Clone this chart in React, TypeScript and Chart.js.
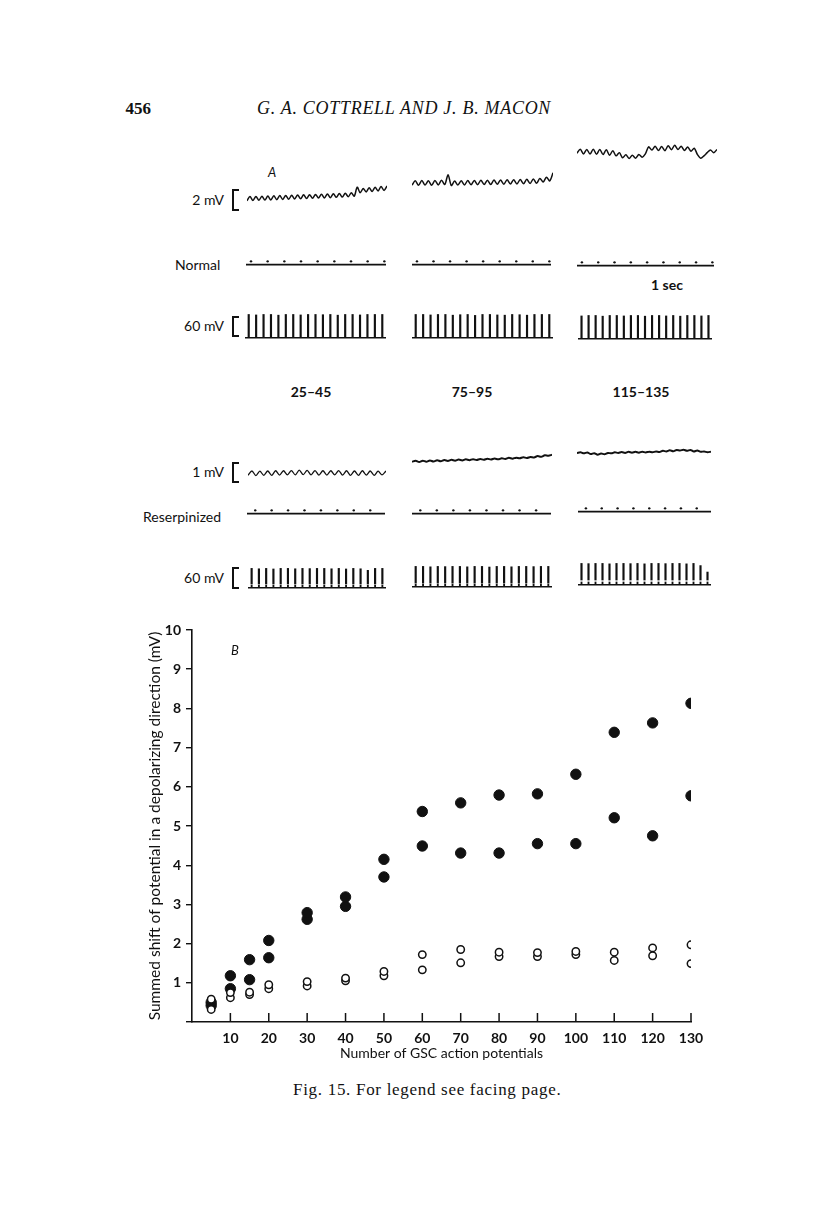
import React, { useEffect, useRef } from "react";
import { Chart, registerables } from "chart.js";

Chart.register(...registerables);

// ---------------- Panel B data ----------------
const GSC_COUNTS = [5, 10, 15, 20, 30, 40, 50, 60, 70, 80, 90, 100, 110, 120, 130];
const NORMAL_UPPER = [0.5, 1.18, 1.59, 2.08, 2.79, 3.19, 4.15, 5.37, 5.59, 5.79, 5.82, 6.32, 7.39, 7.63, 8.13];
const NORMAL_LOWER = [0.42, 0.85, 1.08, 1.64, 2.62, 2.95, 3.7, 4.49, 4.31, 4.31, 4.55, 4.55, 5.21, 4.75, 5.77];
const RESERP_UPPER = [0.58, 0.75, 0.76, 0.95, 1.03, 1.12, 1.29, 1.72, 1.85, 1.78, 1.77, 1.8, 1.78, 1.89, 1.97];
const RESERP_LOWER = [0.32, 0.62, 0.7, 0.85, 0.92, 1.05, 1.18, 1.33, 1.51, 1.67, 1.67, 1.72, 1.57, 1.69, 1.49];

const X_MAX = 130;
const X_STEP = 10;
const Y_MAX = 10;
const Y_STEP = 1;

const X_TITLE = "Number of GSC action potentials";
const Y_TITLE = "Summed shift of potential in a depolarizing direction (mV)";

// ---------------- Panel A data ----------------
const RANGE_LABELS = ["25\u201345", "75\u201395", "115\u2013135"];

// 2 mV traces (normal), mV relative to start
const NORMAL_WAVE_1 = [
  0.0, 0.32, 0.02, 0.33, 0.03, 0.35, 0.05, 0.36, 0.06, 0.38,
  0.08, 0.4, 0.1, 0.41, 0.12, 0.42, 0.14, 0.44, 0.15, 0.46,
  0.17, 0.47, 0.19, 0.49, 0.21, 0.5, 0.22, 0.52, 0.24, 0.54,
  0.26, 0.56, 0.28, 0.58, 0.31, 0.62, 0.35, 1.05, 0.62, 0.95,
  0.68, 1.0, 0.72, 1.04, 0.76, 1.1, 0.8, 1.15,
];
const NORMAL_WAVE_2 = [
  0.05, 0.4, 0.04, 0.42, 0.06, 0.4, 0.05, 0.43, 0.07, 0.45,
  0.1, 0.9, 0.02, 0.38, 0.06, 0.4, 0.07, 0.42, 0.08, 0.43,
  0.09, 0.44, 0.1, 0.45, 0.1, 0.46, 0.12, 0.47, 0.13, 0.48,
  0.14, 0.49, 0.15, 0.5, 0.16, 0.52, 0.18, 0.55, 0.2, 0.6,
  0.3, 0.7, 0.4, 1.05,
];
const NORMAL_WAVE_3 = [
  0.5, 0.82, 0.45, 0.8, 0.44, 0.82, 0.42, 0.8, 0.4, 0.78,
  0.35, 0.7, 0.3, 0.55, 0.15, 0.38, 0.1, 0.35, 0.12, 0.4,
  0.2, 0.45, 1.0, 0.75, 1.05, 0.72, 1.02, 0.7, 1.08, 0.78,
  1.12, 0.8, 1.05, 0.72, 0.98, 0.65, 0.9, 0.4, 0.12, 0.3,
  0.55, 0.75, 0.55, 0.8,
];

// 1 mV traces (reserpinized)
const RESERP_WAVE_1 = [
  0.12, 0.32, 0.11, 0.31, 0.12, 0.32, 0.12, 0.33, 0.13, 0.33,
  0.14, 0.34, 0.14, 0.36, 0.15, 0.35, 0.14, 0.34, 0.13, 0.33,
  0.13, 0.33, 0.14, 0.34, 0.13, 0.33, 0.12, 0.32, 0.12, 0.33,
  0.13, 0.32, 0.12, 0.31, 0.14, 0.32,
];
const RESERP_WAVE_2 = [
  0.1, 0.15, 0.09, 0.15, 0.1, 0.16, 0.11, 0.17, 0.12, 0.18,
  0.14, 0.19, 0.15, 0.2, 0.16, 0.21, 0.17, 0.22, 0.18, 0.23,
  0.19, 0.24, 0.2, 0.25, 0.21, 0.26, 0.23, 0.28, 0.24, 0.29,
  0.26, 0.31, 0.27, 0.32, 0.3, 0.36, 0.33, 0.4, 0.38, 0.42,
];
const RESERP_WAVE_3 = [
  0.22, 0.26, 0.21, 0.25, 0.18, 0.22, 0.15, 0.2, 0.17, 0.23,
  0.21, 0.26, 0.23, 0.27, 0.23, 0.28, 0.24, 0.28, 0.24, 0.29,
  0.25, 0.29, 0.26, 0.3, 0.27, 0.33, 0.3, 0.35, 0.31, 0.37,
  0.34, 0.38, 0.33, 0.37, 0.3, 0.34, 0.28, 0.3, 0.26, 0.29,
];

// time markers (units of 0.1 s)
const NORMAL_MARKS = [0.3, 1.3, 2.3, 3.3, 4.3, 5.3, 6.3, 7.3, 8.3];
const RESERP_MARKS = [0.5, 1.5, 2.5, 3.5, 4.5, 5.5, 6.5, 7.5];
const MARK_SPAN = 8.4;

// spike heights (fraction of 60 mV bar)
const NORMAL_SPIKES_1 = [1, 0.98, 1, 1, 0.97, 1, 1, 0.98, 1, 1, 0.99, 1, 0.97, 1, 1, 0.98, 1, 1, 1];
const NORMAL_SPIKES_2 = [1, 1, 0.98, 1, 1, 0.97, 0.99, 1, 0.96, 1, 1, 0.98, 0.97, 1, 0.99, 0.97, 1, 1, 1];
const NORMAL_SPIKES_3 = [0.98, 1, 1, 0.97, 1, 1, 0.98, 1, 1, 0.97, 1, 1, 0.98, 1, 0.97, 1, 1, 0.98, 1];
const RESERP_SPIKES_1 = [1, 0.98, 1, 0.97, 1, 1, 0.98, 1, 0.99, 1, 1, 0.98, 1, 0.97, 1, 0.98, 0.9, 1, 1];
const RESERP_SPIKES_2 = [1, 1, 0.98, 1, 0.99, 1, 1, 0.98, 1, 1, 0.97, 1, 1, 0.98, 1, 1, 0.99, 1, 1];
const RESERP_SPIKES_3 = [1, 0.99, 1, 1, 0.98, 1, 1, 0.99, 1, 0.98, 1, 1, 0.99, 1, 1, 0.98, 1, 0.9, 0.6];
const RESERP_BUMP = 0.14;

const SANS = "Lato, 'Open Sans', sans-serif";
const SERIF = "'Liberation Serif', 'DejaVu Serif', serif";
const INK = "#111";

type TraceProps = {
  kind: "wave" | "timing" | "spikes" | "floatSpikes";
  left: number;
  width: number;
  baseline: number;
  unit: number;
  yMin: number;
  yMax: number;
  values: number[];
  low?: number;
  lineWidth?: number;
};

function Trace(p: TraceProps) {
  const ref = useRef<HTMLCanvasElement>(null);
  const padTop = 2;
  const padBottom = 3;
  const top = p.baseline - p.yMax * p.unit - padTop;
  const height = Math.round((p.yMax - p.yMin) * p.unit + padTop + padBottom);

  useEffect(() => {
    if (!ref.current) return;
    const yScale: any = { type: "linear", display: false, min: p.yMin, max: p.yMax };
    const common: any = {
      animation: false,
      responsive: false,
      events: [],
      layout: { autoPadding: false, padding: { top: padTop, bottom: padBottom, left: 0, right: 0 } },
      plugins: { legend: { display: false }, tooltip: { enabled: false } },
    };
    let config: any;
    if (p.kind === "wave") {
      config = {
        type: "line",
        data: {
          labels: p.values.map((_, i) => i),
          datasets: [
            {
              data: p.values,
              borderColor: INK,
              borderWidth: p.lineWidth ?? 1.5,
              pointRadius: 0,
              tension: 0.3,
              clip: false,
            },
          ],
        },
        options: { ...common, scales: { x: { display: false }, y: yScale } },
      };
    } else if (p.kind === "timing") {
      config = {
        type: "scatter",
        data: {
          datasets: [
            {
              data: [
                { x: 0, y: 0 },
                { x: MARK_SPAN, y: 0 },
              ],
              showLine: true,
              borderColor: INK,
              borderWidth: 1.7,
              pointRadius: 0,
              clip: false,
            },
            {
              data: p.values.map((t) => ({ x: t, y: 1 })),
              pointRadius: 1.2,
              pointBackgroundColor: INK,
              pointBorderWidth: 0,
              clip: false,
            },
          ],
        },
        options: {
          ...common,
          scales: { x: { type: "linear", display: false, min: 0, max: MARK_SPAN }, y: yScale },
        },
      };
    } else {
      const low = p.low ?? 0;
      const datasets: any[] = [
        {
          data: p.kind === "floatSpikes" ? p.values.map((v) => [low, v]) : p.values,
          backgroundColor: INK,
          barThickness: 1.5,
          grouped: false,
        },
      ];
      if (p.kind === "floatSpikes") {
        datasets.push({
          data: p.values.map(() => RESERP_BUMP),
          backgroundColor: INK,
          barThickness: 1.2,
          grouped: false,
        });
      }
      config = {
        type: "bar",
        data: { labels: p.values.map((_, i) => i), datasets },
        options: {
          ...common,
          scales: {
            x: {
              display: true,
              grid: { display: false, drawTicks: false },
              ticks: { display: false },
              border: { display: true, color: INK, width: 1.6 },
            },
            y: yScale,
          },
        },
      };
    }
    const chart = new Chart(ref.current, config);
    return () => chart.destroy();
  }, []);

  return (
    <canvas
      ref={ref}
      width={p.width}
      height={height}
      style={{ position: "absolute", left: p.left, top, width: p.width, height }}
    />
  );
}

function PanelB() {
  const ref = useRef<HTMLCanvasElement>(null);
  useEffect(() => {
    if (!ref.current) return;
    const upTicks = {
      id: "upTicks",
      afterDraw(chart: any) {
        const xs = chart.scales.x;
        const { ctx, chartArea } = chart;
        ctx.save();
        ctx.strokeStyle = INK;
        ctx.lineWidth = 1.5;
        xs.ticks.forEach((t: any) => {
          if (t.value <= 0) return;
          const px = xs.getPixelForValue(t.value);
          ctx.beginPath();
          ctx.moveTo(px, chartArea.bottom);
          ctx.lineTo(px, chartArea.bottom - 9);
          ctx.stroke();
        });
        ctx.restore();
      },
    };
    const pts = (ys: number[]) => GSC_COUNTS.map((x, i) => ({ x, y: ys[i] }));
    const open = {
      pointRadius: 3.7,
      pointBorderWidth: 1.5,
      pointBackgroundColor: "#fff",
      pointBorderColor: INK,
    };
    const filled = {
      pointRadius: 5.2,
      pointBorderWidth: 1,
      pointBackgroundColor: INK,
      pointBorderColor: INK,
    };
    const tickFont = { family: SANS, size: 14, weight: "bold" as const };
    const chart = new Chart(ref.current, {
      type: "scatter",
      data: {
        datasets: [
          { label: "Reserpinized (upper)", data: pts(RESERP_UPPER), ...open },
          { label: "Reserpinized (lower)", data: pts(RESERP_LOWER), ...open },
          { label: "Normal (upper)", data: pts(NORMAL_UPPER), ...filled },
          { label: "Normal (lower)", data: pts(NORMAL_LOWER), ...filled },
        ],
      },
      options: {
        animation: false,
        responsive: false,
        events: [],
        layout: { autoPadding: false, padding: { top: 15, right: 39, left: 0, bottom: 0 } },
        plugins: { legend: { display: false }, tooltip: { enabled: false } },
        scales: {
          x: {
            type: "linear",
            min: 0,
            max: X_MAX,
            ticks: {
              stepSize: X_STEP,
              color: INK,
              font: tickFont,
              padding: 8,
              callback: (v: any) => (v === 0 ? "" : String(v)),
            },
            grid: { display: false, drawTicks: false },
            border: { display: true, color: INK, width: 1.6 },
            title: {
              display: true,
              text: X_TITLE,
              color: INK,
              font: { family: SANS, size: 14, weight: "normal" },
              padding: { top: 0, bottom: 10 },
            },
            afterFit: (s: any) => {
              s.height = 50;
            },
          },
          y: {
            type: "linear",
            min: 0,
            max: Y_MAX,
            ticks: {
              stepSize: Y_STEP,
              color: INK,
              font: tickFont,
              padding: 5,
              callback: (v: any) => (v === 0 ? "" : String(v)),
            },
            grid: {
              display: true,
              drawOnChartArea: false,
              drawTicks: true,
              tickLength: 6,
              color: INK,
              lineWidth: 1.4,
            },
            border: { display: true, color: INK, width: 1.6 },
            title: {
              display: true,
              text: Y_TITLE,
              color: INK,
              font: { family: SANS, size: 15.5, weight: "normal" },
              padding: { top: 16, bottom: 0 },
            },
            afterFit: (s: any) => {
              s.width = 62;
            },
          },
        },
      },
      plugins: [upTicks],
    } as any);
    return () => chart.destroy();
  }, []);
  return (
    <canvas
      ref={ref}
      width={600}
      height={457}
      style={{ position: "absolute", left: 130, top: 615, width: 600, height: 457 }}
    />
  );
}

type LabelProps = {
  text: string;
  x: number;
  y: number;
  align?: "left" | "right" | "center";
  size?: number;
  weight?: string;
  italic?: boolean;
  family?: string;
  spacing?: number;
};

function Label({ text, x, y, align = "left", size = 14, weight = "normal", italic, family = SANS, spacing = 0 }: LabelProps) {
  const style: React.CSSProperties = {
    position: "absolute",
    top: y,
    transform: align === "center" ? "translate(-50%, -50%)" : "translateY(-50%)",
    fontFamily: family,
    fontSize: size,
    fontWeight: weight as any,
    fontStyle: italic ? "italic" : "normal",
    letterSpacing: spacing,
    lineHeight: 1,
    whiteSpace: "nowrap",
    color: INK,
  };
  if (align === "right") style.right = 816 - x;
  else style.left = x;
  return <div style={style}>{text}</div>;
}

function Bracket({ top, height }: { top: number; height: number }) {
  return (
    <div
      style={{
        position: "absolute",
        left: 232,
        top,
        width: 5,
        height: height - 4,
        borderLeft: `2px solid ${INK}`,
        borderTop: `2px solid ${INK}`,
        borderBottom: `2px solid ${INK}`,
      }}
    />
  );
}

export default function App() {
  return (
    <div
      style={{
        position: "absolute",
        left: 0,
        top: 0,
        width: 816,
        height: 1221,
        background: "#fff",
        overflow: "hidden",
      }}
    >
      {/* header */}
      <Label text="456" x={151} y={108} size={17} weight="bold" family={SERIF} align="right" />
      <Label text="G. A. COTTRELL AND J. B. MACON" x={257} y={108} size={18} italic family={SERIF} spacing={0.7} />

      {/* Panel A labels */}
      <Label text="A" x={268} y={172} size={13} italic />
      <Label text="2 mV" x={224} y={200} size={14} align="right" />
      <Bracket top={189} height={22} />
      <Label text="Normal" x={175} y={265} size={14} />
      <Label text="1 sec" x={651} y={285} size={14} weight="bold" />
      <Label text="60 mV" x={224} y={326} size={14} align="right" />
      <Bracket top={316} height={21} />
      <Label text={RANGE_LABELS[0]} x={311} y={392} size={14} weight="bold" align="center" />
      <Label text={RANGE_LABELS[1]} x={472} y={392} size={14} weight="bold" align="center" />
      <Label text={RANGE_LABELS[2]} x={641} y={392} size={14} weight="bold" align="center" />
      <Label text="1 mV" x={224} y={472} size={14} align="right" />
      <Bracket top={462} height={21} />
      <Label text="Reserpinized" x={143} y={517} size={14} />
      <Label text="60 mV" x={224} y={578} size={14} align="right" />
      <Bracket top={567} height={22} />

      {/* 2 mV traces */}
      <Trace kind="wave" values={NORMAL_WAVE_1} left={247} width={140} baseline={200} unit={12.5} yMin={-0.1} yMax={1.3} />
      <Trace kind="wave" values={NORMAL_WAVE_2} left={412} width={141} baseline={186} unit={12.5} yMin={-0.1} yMax={1.2} />
      <Trace kind="wave" values={NORMAL_WAVE_3} left={577} width={140} baseline={159} unit={12.5} yMin={-0.1} yMax={1.3} />

      {/* time markers, normal */}
      <Trace kind="timing" values={NORMAL_MARKS} left={246} width={140} baseline={265} unit={3.6} yMin={-0.4} yMax={1.4} />
      <Trace kind="timing" values={NORMAL_MARKS} left={412} width={139} baseline={265.5} unit={3.6} yMin={-0.4} yMax={1.4} />
      <Trace kind="timing" values={NORMAL_MARKS} left={577} width={137} baseline={266.5} unit={3.6} yMin={-0.4} yMax={1.4} />

      {/* 60 mV spikes, normal */}
      <Trace kind="spikes" values={NORMAL_SPIKES_1} left={245} width={141} baseline={338} unit={24} yMin={0} yMax={1.02} />
      <Trace kind="spikes" values={NORMAL_SPIKES_2} left={412} width={141} baseline={338} unit={24} yMin={0} yMax={1.02} />
      <Trace kind="spikes" values={NORMAL_SPIKES_3} left={578} width={134} baseline={339} unit={24} yMin={0} yMax={1.02} />

      {/* 1 mV traces */}
      <Trace kind="wave" values={RESERP_WAVE_1} left={248} width={138} baseline={478} unit={22} yMin={-0.05} yMax={0.55} lineWidth={1.3} />
      <Trace kind="wave" values={RESERP_WAVE_2} left={412} width={140} baseline={464} unit={22} yMin={-0.05} yMax={0.55} lineWidth={2} />
      <Trace kind="wave" values={RESERP_WAVE_3} left={577} width={134} baseline={458} unit={22} yMin={-0.05} yMax={0.55} lineWidth={2} />

      {/* time markers, reserpinized */}
      <Trace kind="timing" values={RESERP_MARKS} left={247} width={138} baseline={514} unit={3.6} yMin={-0.4} yMax={1.4} />
      <Trace kind="timing" values={RESERP_MARKS} left={412} width={139} baseline={514.5} unit={3.6} yMin={-0.4} yMax={1.4} />
      <Trace kind="timing" values={RESERP_MARKS} left={578} width={133} baseline={512} unit={3.6} yMin={-0.4} yMax={1.4} />

      {/* 60 mV spikes, reserpinized */}
      <Trace kind="floatSpikes" values={RESERP_SPIKES_1} low={0.2} left={248} width={138} baseline={588} unit={20} yMin={0} yMax={1.02} />
      <Trace kind="floatSpikes" values={RESERP_SPIKES_2} low={0.19} left={412} width={140} baseline={587} unit={21} yMin={0} yMax={1.02} />
      <Trace kind="floatSpikes" values={RESERP_SPIKES_3} low={0.23} left={578} width={133} baseline={585} unit={22} yMin={0} yMax={1.02} />

      {/* Panel B */}
      <PanelB />
      <Label text="B" x={231} y={650} size={13} italic />

      {/* caption */}
      <Label text="Fig. 15. For legend see facing page." x={293} y={1089} size={17} family={SERIF} spacing={0.7} />
    </div>
  );
}
